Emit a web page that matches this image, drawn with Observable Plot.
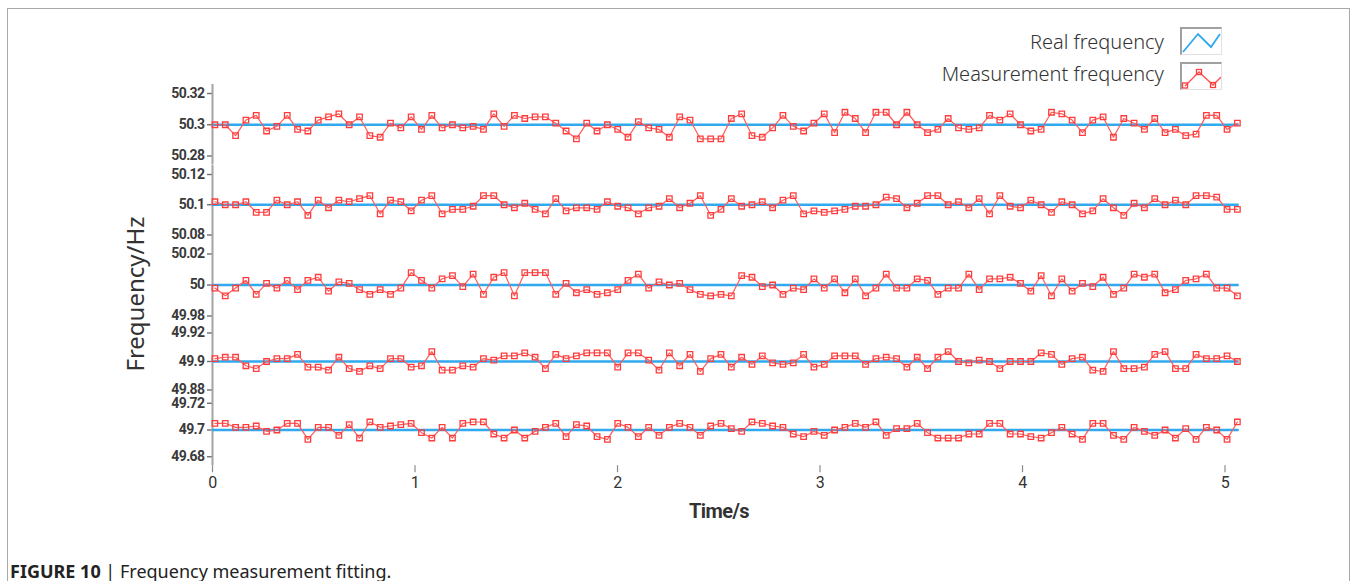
<!DOCTYPE html>
<html>
<head>
<meta charset="utf-8">
<script src="https://cdn.jsdelivr.net/npm/d3@7"></script>
<script src="https://cdn.jsdelivr.net/npm/@observablehq/plot@0.6"></script>
<style>
  html, body { margin: 0; padding: 0; background: #fff; }
  body { width: 1357px; height: 581px; overflow: hidden; position: relative; font-family: "Noto Sans", "Open Sans", sans-serif; color: #333; }
  #border { position: absolute; left: 7px; top: 8px; width: 1343px; height: 620px; border: 1px solid #a9a9a9; box-sizing: border-box; }
  .panel { position: absolute; left: 0; }
  .panel svg { overflow: visible; background: transparent; }
  .panel svg [aria-label^="y-axis"] text {
    font-family: Roboto, "Liberation Sans", sans-serif;
    font-size: 14px; font-weight: 700; letter-spacing: -0.6px; fill: #3a3a3a;
  }
  .panel svg [aria-label^="x-axis"] text {
    font-family: Roboto, "Liberation Sans", sans-serif;
    font-size: 16px; font-weight: 400; letter-spacing: -0.3px; fill: #333;
  }
  .panel svg [aria-label^="y-axis"] path, .panel svg [aria-label^="y-axis"] line { stroke: #6f6f6f; stroke-width: 1.4; }
  .panel svg [aria-label^="x-axis"] path, .panel svg [aria-label^="x-axis"] line { stroke: #8a8a8a; stroke-width: 1.2; }
  .legend-text { position: absolute; right: 193px; font-size: 20px; font-weight: 300; color: #333; white-space: nowrap; line-height: 1; }
  .swatch { position: absolute; left: 1180px; width: 42px; height: 28px; box-sizing: border-box;
            border-top: 2px solid #a0a0a0; border-left: 2px solid #a0a0a0; border-right: 1px solid #e2e2e2; border-bottom: 1px solid #e2e2e2; background: #fff; overflow: hidden; }
  .swatch svg { position: absolute; left: 0; top: 0; }
  #ylabel { position: absolute; left: 135px; top: 294px; transform: translate(-50%, -50%) rotate(-90deg); font-size: 24px; color: #333; white-space: nowrap; line-height: 1; }
  #xlabel { position: absolute; left: 719px; top: 511px; transform: translate(-50%, -50%); font-family: Roboto, "Liberation Sans", sans-serif; font-weight: 700; font-size: 20px; letter-spacing: -0.6px; color: #333; white-space: nowrap; line-height: 1; }
  #caption { position: absolute; left: 10px; top: 562px; font-size: 18px; line-height: 1; color: #222; white-space: nowrap; }
  #caption b { font-weight: 700; }
</style>
</head>
<body>
<div id="border"></div>
<div id="charts"></div>
<div class="legend-text" style="top:32px">Real frequency</div>
<div class="swatch" style="top:27px"><svg width="40" height="26"><polyline points="1,23 16,5 29,18 38,5" fill="none" stroke="#31a9ee" stroke-width="1.8"/></svg></div>
<div class="legend-text" style="top:64px">Measurement frequency</div>
<div class="swatch" style="top:62px"><svg width="40" height="26"><polyline points="3,22 17,8 31,21 39,13" fill="none" stroke="#ff5050" stroke-width="1.3"/>
  <rect x="0.5" y="19" width="5" height="5" fill="none" stroke="#ff3c3c" stroke-width="1.3"/>
  <rect x="14.5" y="5.5" width="5" height="5" fill="none" stroke="#ff3c3c" stroke-width="1.3"/>
  <rect x="28.5" y="18.5" width="5" height="5" fill="none" stroke="#ff3c3c" stroke-width="1.3"/></svg></div>
<div id="ylabel">Frequency/Hz</div>
<div id="xlabel">Time/s</div>
<div id="caption"><b>FIGURE 10</b> | Frequency measurement fitting.</div>
<script>
// ---------------- data ----------------
const realFrequency = [50.3, 50.1, 50.0, 49.9, 49.7];

const measured_50_3 = [
  50.300,50.300,50.293,50.303,50.306,50.296,50.299,50.306,50.297,50.296,
  50.303,50.305,50.307,50.300,50.305,50.293,50.292,50.301,50.298,50.305,
  50.297,50.306,50.298,50.300,50.298,50.299,50.297,50.307,50.299,50.306,
  50.304,50.305,50.305,50.301,50.296,50.291,50.301,50.296,50.300,50.297,
  50.292,50.302,50.298,50.297,50.292,50.305,50.303,50.291,50.291,50.291,
  50.304,50.307,50.293,50.292,50.298,50.306,50.299,50.296,50.301,50.307,
  50.295,50.308,50.304,50.295,50.308,50.308,50.300,50.308,50.300,50.295,
  50.297,50.304,50.298,50.297,50.298,50.306,50.303,50.307,50.300,50.296,
  50.297,50.308,50.307,50.303,50.295,50.303,50.305,50.292,50.304,50.301,
  50.297,50.304,50.295,50.297,50.293,50.294,50.306,50.306,50.297,50.301
];
const measured_50_1 = [
  50.102,50.100,50.100,50.102,50.095,50.095,50.103,50.100,50.102,50.093,
  50.103,50.098,50.103,50.102,50.104,50.106,50.094,50.103,50.102,50.096,
  50.103,50.106,50.094,50.097,50.097,50.099,50.106,50.106,50.100,50.098,
  50.101,50.097,50.094,50.104,50.096,50.098,50.098,50.097,50.102,50.099,
  50.098,50.094,50.098,50.099,50.104,50.098,50.101,50.106,50.093,50.097,
  50.104,50.099,50.100,50.102,50.098,50.103,50.106,50.094,50.096,50.095,
  50.096,50.097,50.099,50.099,50.100,50.105,50.104,50.098,50.101,50.106,
  50.106,50.100,50.102,50.098,50.104,50.094,50.106,50.099,50.098,50.103,
  50.100,50.095,50.102,50.100,50.094,50.096,50.104,50.098,50.093,50.101,
  50.098,50.104,50.100,50.103,50.100,50.106,50.106,50.105,50.097,50.097
];
const measured_50_0 = [
  49.998,49.993,49.998,50.003,49.994,50.001,49.998,50.003,49.997,50.003,
  50.005,49.996,50.002,50.001,49.997,49.994,49.997,49.994,49.998,50.008,
  50.003,49.998,50.004,50.006,49.999,50.007,49.994,50.005,50.008,49.993,
  50.008,50.008,50.008,49.994,50.001,49.995,49.997,49.994,49.995,49.997,
  50.003,50.007,49.998,50.002,50.000,50.001,49.997,49.994,49.993,49.994,
  49.993,50.006,50.005,49.999,50.000,49.994,49.998,49.997,50.004,49.998,
  50.004,49.995,50.004,49.993,49.998,50.007,49.998,49.998,50.004,50.003,
  49.994,49.998,49.998,50.007,49.997,50.004,50.004,50.005,50.001,49.996,
  50.006,49.993,50.004,49.996,50.001,49.999,50.005,49.994,49.998,50.007,
  50.005,50.007,49.995,49.997,50.003,50.004,50.007,49.998,49.998,49.993
];
const measured_49_9 = [
  49.902,49.903,49.903,49.897,49.895,49.900,49.902,49.902,49.905,49.896,
  49.896,49.894,49.903,49.895,49.893,49.897,49.895,49.902,49.902,49.896,
  49.897,49.907,49.894,49.894,49.897,49.896,49.902,49.901,49.904,49.904,
  49.906,49.903,49.895,49.905,49.902,49.904,49.906,49.906,49.906,49.896,
  49.906,49.906,49.901,49.894,49.906,49.897,49.905,49.893,49.902,49.905,
  49.896,49.903,49.898,49.904,49.899,49.898,49.899,49.905,49.896,49.898,
  49.904,49.904,49.904,49.898,49.902,49.903,49.902,49.896,49.903,49.895,
  49.903,49.907,49.900,49.899,49.901,49.900,49.895,49.900,49.900,49.900,
  49.906,49.905,49.898,49.902,49.903,49.894,49.893,49.907,49.895,49.895,
  49.896,49.905,49.907,49.895,49.895,49.905,49.902,49.902,49.904,49.900
];
const measured_49_7 = [
  49.705,49.705,49.702,49.702,49.703,49.699,49.700,49.705,49.705,49.693,
  49.702,49.702,49.696,49.704,49.694,49.706,49.702,49.703,49.704,49.705,
  49.698,49.694,49.702,49.694,49.705,49.706,49.706,49.697,49.694,49.700,
  49.694,49.699,49.702,49.705,49.695,49.704,49.703,49.695,49.693,49.705,
  49.702,49.695,49.702,49.696,49.702,49.705,49.702,49.696,49.703,49.705,
  49.701,49.699,49.706,49.705,49.703,49.702,49.697,49.695,49.699,49.696,
  49.700,49.702,49.705,49.702,49.706,49.696,49.701,49.701,49.705,49.698,
  49.694,49.694,49.694,49.697,49.697,49.705,49.705,49.697,49.697,49.695,
  49.694,49.698,49.702,49.697,49.693,49.705,49.705,49.696,49.693,49.702,
  49.699,49.696,49.700,49.694,49.701,49.693,49.702,49.700,49.693,49.706
];
const measuredSeries = [measured_50_3, measured_50_1, measured_50_0, measured_49_9, measured_49_7];

// sampling grid of the measurement (s)
const sampleStart = 0.012;
const sampleStep = 0.051;

const yTickValues = [
  [50.28, 50.3, 50.32],
  [50.08, 50.1, 50.12],
  [49.98, 50, 50.02],
  [49.88, 49.9, 49.92],
  [49.68, 49.7, 49.72]
];
const xTickValues = [0, 1, 2, 3, 4, 5];
const xDomain = [0, 5.07];

// ---------------- layout ----------------
const W = 1357;
const marginLeft = 212;
const plotRight = 1238.7;
const panelTops = [84, 164.5, 243.5, 323.5, 395.75];
const panelBottoms = [164.5, 243.5, 323.5, 395.75, 506];
const frameBottomLast = 465;
const tickPx = [[93, 155.5], [173.5, 234], [253, 315], [332, 389], [402.5, 456]];

const fmt = d => String(+d.toFixed(2));
const charts = document.getElementById("charts");

measuredSeries.forEach((vals, i) => {
  const top = panelTops[i];
  const h = panelBottoms[i] - top;
  const last = i === measuredSeries.length - 1;
  const data = vals.map((v, k) => ({t: sampleStart + k * sampleStep, f: v}));
  const lo = yTickValues[i][0], hi = yTickValues[i][2];
  const chart = Plot.plot({
    width: W,
    height: h,
    marginLeft,
    marginRight: W - plotRight,
    marginTop: 0,
    marginBottom: last ? h - (frameBottomLast - top) : 0,
    style: {background: "transparent", overflow: "visible"},
    x: {domain: xDomain, axis: last ? "bottom" : null, ticks: xTickValues, tickFormat: d => String(d), tickSize: 7, tickPadding: 4, label: null},
    y: {domain: [lo, hi], range: [tickPx[i][1] - top, tickPx[i][0] - top], ticks: yTickValues[i], tickFormat: fmt, tickSize: 5, tickPadding: 3, label: null},
    marks: [
      Plot.ruleX([0], {stroke: "#a3a3a3", strokeWidth: 2}),
      Plot.ruleY([realFrequency[i]], {stroke: "#31a9ee", strokeWidth: 2.6}),
      Plot.line(data, {x: "t", y: "f", stroke: "#ff5a5a", strokeWidth: 1.2}),
      Plot.dot(data, {x: "t", y: "f", symbol: "square", r: 3.1, stroke: "#ff3c3c", strokeWidth: 1.3, fill: "none"})
    ]
  });
  const wrap = document.createElement("div");
  wrap.className = "panel";
  wrap.style.top = top + "px";
  wrap.appendChild(chart);
  charts.appendChild(wrap);
});
</script>
</body>
</html>
